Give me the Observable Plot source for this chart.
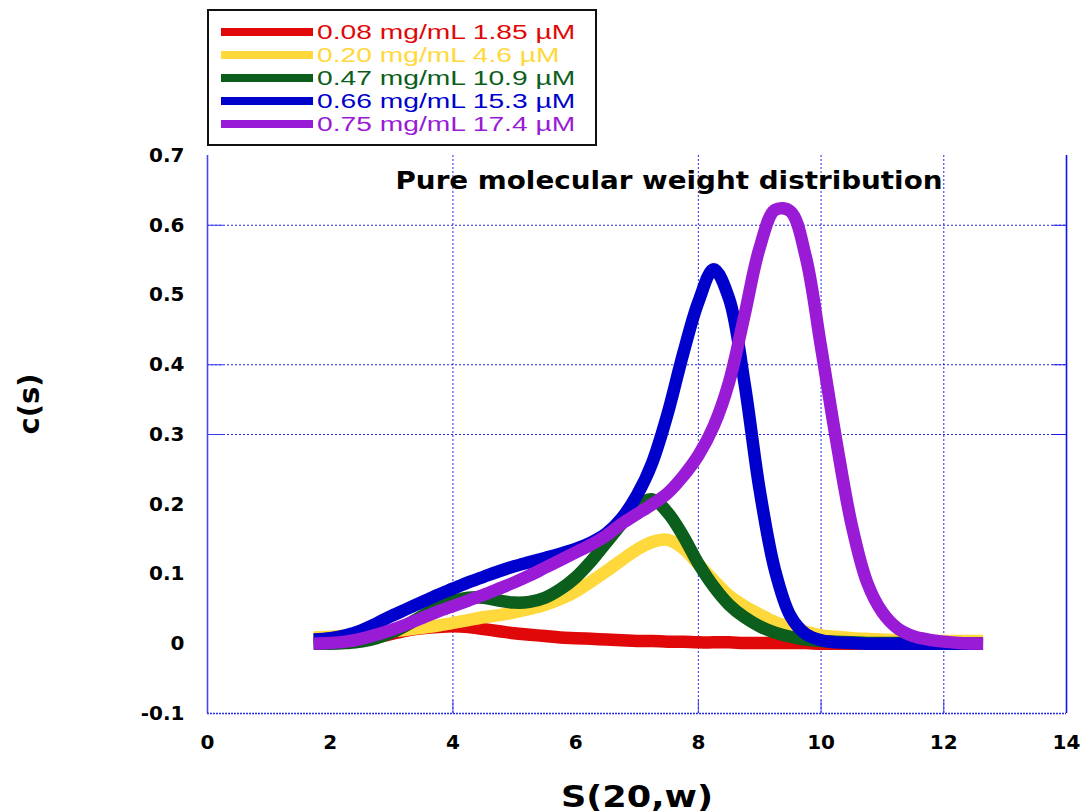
<!DOCTYPE html>
<html><head><meta charset="utf-8">
<script src="https://cdn.jsdelivr.net/npm/d3@7"></script>
<script src="https://cdn.jsdelivr.net/npm/@observablehq/plot@0.6"></script>
<style>
body{margin:0;background:#fff;}
#wrap{position:relative;width:1085px;height:812px;}
#legend{position:absolute;left:207px;top:9px;width:386px;height:133px;border:2px solid #111;background:#fff;}
.row{position:absolute;left:12px;height:22px;display:flex;align-items:center;}
.sw{width:92px;height:8px;flex:none;}
.lbl{font-family:"Liberation Sans",Arial,sans-serif;font-size:20px;margin-left:4px;transform:scaleX(1.41);transform-origin:left center;white-space:nowrap;}
</style></head>
<body><div id="wrap"><div id="chart"></div><div id="legend"></div></div>
<script>
// sedimentation coefficient S(20,w)
const sValues = [1.73, 2, 2.25, 2.5, 2.75, 3, 3.25, 3.5, 3.75, 4, 4.25, 4.5, 4.75, 5, 5.25, 5.5, 5.75, 6, 6.25, 6.5, 6.75, 7, 7.25, 7.5, 7.75, 8, 8.25, 8.5, 8.75, 9, 9.25, 9.5, 9.75, 10, 10.25, 10.5, 10.75, 11, 11.25, 11.5, 11.75, 12, 12.25, 12.64];
const c008 = [0.001,0.002,0.003,0.005,0.009,0.014,0.019,0.022,0.024,0.025,0.024,0.021,0.018,0.015,0.013,0.011,0.009,0.008,0.007,0.006,0.005,0.004,0.004,0.003,0.003,0.002,0.002,0.002,0.001,0.001,0.001,0.001,0.001,0,0,0,0,0,0,0,0,0,0,0];
const c020 = [0.009,0.010,0.012,0.014,0.016,0.018,0.020,0.023,0.026,0.030,0.034,0.038,0.041,0.045,0.050,0.056,0.064,0.075,0.089,0.104,0.120,0.135,0.146,0.149,0.137,0.114,0.091,0.069,0.054,0.042,0.031,0.024,0.017,0.012,0.010,0.008,0.007,0.006,0.005,0.005,0.004,0.004,0.004,0.004];
const c047 = [0,0,0.001,0.003,0.008,0.016,0.027,0.040,0.052,0.061,0.066,0.066,0.062,0.059,0.060,0.066,0.078,0.095,0.118,0.145,0.172,0.198,0.207,0.188,0.155,0.115,0.082,0.056,0.038,0.025,0.016,0.010,0.006,0.004,0.003,0.002,0.001,0.001,0.001,0,0,0,0,0];
const c066 = [0.006,0.008,0.012,0.019,0.029,0.040,0.050,0.060,0.070,0.079,0.088,0.096,0.104,0.111,0.117,0.123,0.129,0.136,0.145,0.158,0.180,0.213,0.260,0.330,0.415,0.490,0.537,0.495,0.375,0.220,0.105,0.040,0.014,0.005,0.002,0.001,0,0,0,0,0,0,0,0];
const c075 = [0,0.001,0.003,0.007,0.013,0.020,0.028,0.037,0.046,0.054,0.062,0.070,0.079,0.088,0.098,0.109,0.120,0.131,0.142,0.155,0.172,0.186,0.200,0.216,0.240,0.270,0.312,0.375,0.470,0.568,0.622,0.620,0.555,0.425,0.290,0.170,0.088,0.045,0.022,0.011,0.006,0.003,0.001,0];

const seriesNames = ["0.08 mg/mL 1.85 µM","0.20 mg/mL 4.6 µM","0.47 mg/mL 10.9 µM","0.66 mg/mL 15.3 µM","0.75 mg/mL 17.4 µM"];
const seriesColors = ["#e00808","#ffd83c","#0b5e1b","#0000cc","#9a1bd5"];
const xTicks = [0,2,4,6,8,10,12,14];
const yTicks = [-0.1,0,0.1,0.2,0.3,0.4,0.5,0.6,0.7];
const xGrid = [4,8,10,12];
const yGrid = [0.3,0.4,0.6];
const titleText = "Pure molecular weight distribution";
const xLabel = "S(20,w)";
const yLabel = "c(s)";

const allSeries = [c008,c020,c047,c066,c075];
const rows = [];
allSeries.forEach((arr,k)=>arr.forEach((c,i)=>rows.push({s:sValues[i], c, series:seriesNames[k]})));

const gridColor = "#2626e6";
const fmt = d => { const v = +d.toFixed(1); return v === 0 ? "0" : String(v); };

const chart = Plot.plot({
  width:1085, height:812,
  marginLeft:207, marginRight:19, marginTop:155, marginBottom:99,
  style:{fontFamily:"'DejaVu Sans',sans-serif", fontSize:"20px", fontWeight:"bold", color:"#000", background:"#fff", overflow:"visible"},
  x:{domain:[0,14]},
  y:{domain:[-0.1,0.7]},
  color:{domain:seriesNames, range:seriesColors},
  marks:[
    Plot.gridX(xGrid,{stroke:gridColor, strokeOpacity:1, strokeWidth:1, strokeDasharray:"2,2"}),
    Plot.gridY(yGrid,{stroke:gridColor, strokeOpacity:1, strokeWidth:1, strokeDasharray:"2,2"}),
    Plot.axisY(yGrid,{anchor:"left", tickSize:-16, tickFormat:()=>"", stroke:"#3b3bee", label:null}),
    Plot.axisY(yGrid,{anchor:"right", tickSize:-14, tickFormat:()=>"", stroke:"#1a1aee", label:null}),
    Plot.axisX(xGrid,{anchor:"bottom", tickSize:-13, tickFormat:()=>"", stroke:"#3b3bee", label:null}),
    Plot.ruleX([0],{stroke:"#4646f2", strokeWidth:1.6}),
    Plot.ruleX([14],{stroke:"#1212ee", strokeWidth:1.6}),
    Plot.ruleY([-0.1],{stroke:"#2a2ae8", strokeWidth:1.6, strokeDasharray:"2,1"}),
    Plot.axisX(xTicks,{anchor:"bottom", tickSize:0, tickPadding:21, label:null, fontWeight:"bold"}),
    Plot.axisY(yTicks,{anchor:"left", tickSize:0, tickPadding:23, tickFormat:fmt, label:null, fontWeight:"bold"}),
    Plot.line(rows,{x:"s", y:"c", z:"series", stroke:"series", strokeWidth:12.5, curve:"catmull-rom", strokeLinecap:"butt", strokeLinejoin:"round"}),
    Plot.text([titleText],{frameAnchor:"top", dx:32, dy:33, lineAnchor:"bottom", fontSize:25, fontWeight:"bold", fill:"#000"}),
    Plot.text([xLabel],{frameAnchor:"bottom", dy:93, lineAnchor:"bottom", fontSize:30, fontWeight:"bold", fill:"#000"}),
    Plot.text([yLabel],{frameAnchor:"left", dx:-178, dy:0, rotate:-90, lineAnchor:"middle", fontSize:29, fontWeight:"bold", fill:"#000"})
  ]
});
document.getElementById("chart").appendChild(chart);

// stretch wide texts to the reference width
chart.querySelectorAll("text").forEach(t=>{
  if (t.textContent === titleText) { t.setAttribute("textLength", 547); t.setAttribute("lengthAdjust","spacingAndGlyphs"); }
  if (t.textContent === xLabel) { t.setAttribute("textLength", 152); t.setAttribute("lengthAdjust","spacingAndGlyphs"); }
});

// legend
const legend = document.getElementById("legend");
const rowCenters = [21,44,67,90,113];
seriesNames.forEach((name,k)=>{
  const r = document.createElement("div");
  r.className = "row";
  r.style.top = (rowCenters[k]-11)+"px";
  const sw = document.createElement("div");
  sw.className = "sw"; sw.style.background = seriesColors[k];
  const lb = document.createElement("span");
  lb.className = "lbl"; lb.style.color = seriesColors[k]; lb.textContent = name;
  r.appendChild(sw); r.appendChild(lb);
  legend.appendChild(r);
});
</script>
</body></html>
